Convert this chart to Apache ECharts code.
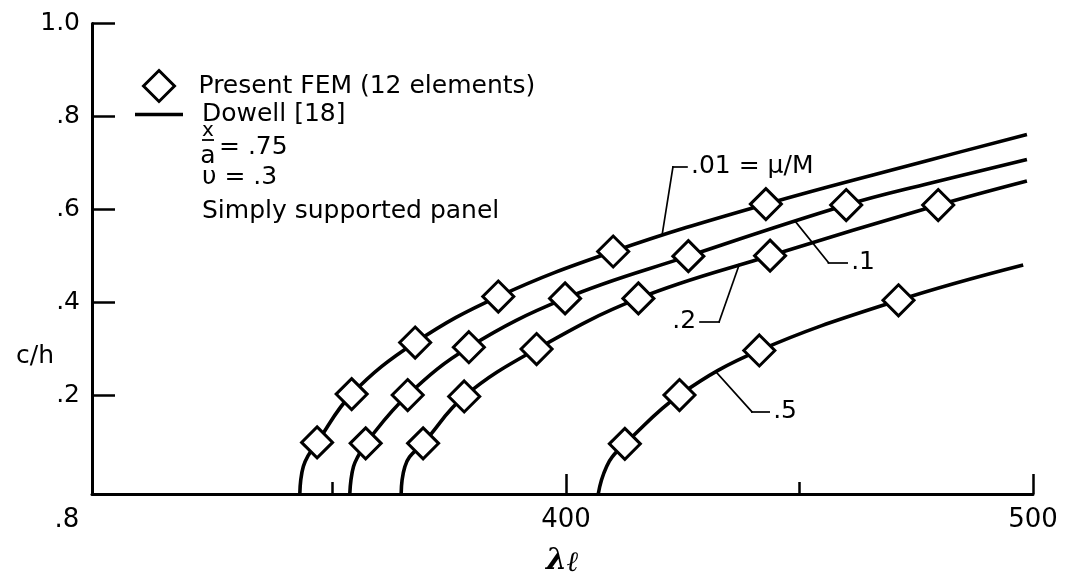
<!DOCTYPE html>
<html><head><meta charset="utf-8">
<script src="https://cdn.jsdelivr.net/npm/echarts@6/dist/echarts.min.js"></script>
<style>html,body{margin:0;padding:0;background:#fff}#c{width:1066px;height:578px}</style>
</head><body><div id="c"></div>
<script>
const FONT = '"DejaVu Sans", "Liberation Sans", sans-serif';

// ---- axes ----
const xMin = 298.5, xMax = 500;
const xMajorTicks = [400, 500];
const xMinorTicks = [350, 450];
const xLabelValues = [298.5, 400, 500];
const xLabelTexts = ['.8', '400', '500'];
const yMin = -0.013, yMax = 1.0;
const yTickValues = [0.2, 0.4, 0.6, 0.8, 1.0];
const yTickLabels = ['.2', '.4', '.6', '.8', '1.0'];

// ---- Dowell [18] curves (lambda, c/h) ----
const dowell001 = [[343.0,-0.013],[343.2,0.017],[343.75,0.046],[344.75,0.069],[346.7,0.098],[354.1,0.202],[367.7,0.313],[385.5,0.412],[410.1,0.509],[442.8,0.611],[477.9,0.706],[498.7,0.761]];
const dowell01  = [[353.7,-0.013],[353.95,0.017],[354.5,0.046],[355.4,0.067],[357.1,0.096],[366.1,0.200],[379.2,0.303],[399.8,0.408],[426.2,0.499],[460.0,0.609],[477.9,0.656],[498.7,0.707]];
const dowell02  = [[364.7,-0.013],[364.9,0.017],[365.5,0.046],[366.5,0.067],[369.4,0.096],[378.2,0.197],[393.7,0.299],[415.5,0.408],[443.7,0.500],[479.7,0.609],[498.7,0.661]];
const dowell05  = [[406.9,-0.013],[407.6,0.017],[408.7,0.046],[409.9,0.067],[412.6,0.095],[424.3,0.200],[441.4,0.296],[471.2,0.404],[497.9,0.480]];

// ---- Present FEM (12 elements) points ----
const fem001 = [[346.7,0.098],[354.1,0.202],[367.7,0.313],[385.5,0.412],[410.1,0.509],[442.8,0.611]];
const fem01  = [[357.1,0.096],[366.1,0.200],[379.2,0.303],[399.8,0.408],[426.2,0.499],[460.0,0.609]];
const fem02  = [[369.4,0.096],[378.2,0.197],[393.7,0.299],[415.5,0.408],[443.7,0.500],[479.7,0.609]];
const fem05  = [[412.6,0.095],[424.3,0.200],[441.4,0.296],[471.2,0.404]];

// ---- curve labels (mu/M) and leader paths ----
const curveLabels = ['.01 = μ/M', '.1', '.2', '.5'];
const lead001 = [[420.6,0.546],[422.9,0.691],[425.9,0.691]];
const lead01  = [[449.0,0.575],[456.2,0.485],[460.2,0.485]];
const lead02  = [[437.1,0.481],[432.8,0.358],[428.7,0.358]];
const lead05  = [[432.3,0.248],[439.8,0.164],[443.5,0.164]];

const LEG_FEM = 'Present FEM (12 elements)';
const LEG_DOW = 'Dowell [18]';

function leader(pts, text) {
  return [
    [{coord: pts[0], label: {show: false}}, {coord: pts[1]}],
    [{coord: pts[1], label: {show: true, formatter: text}}, {coord: pts[2]}]
  ];
}
function markLineFor(pts, text) {
  return {
    silent: true, animation: false, symbol: ['none', 'none'],
    lineStyle: {color: '#000', width: 1.7, type: 'solid', cap: 'square'},
    label: {show: false, position: 'end', distance: 4, color: '#000', fontSize: 25, fontFamily: FONT},
    emphasis: {disabled: true},
    data: leader(pts, text)
  };
}
function curve(data, pts, text) {
  return {
    name: LEG_DOW, type: 'line', data: data, symbol: 'none', showSymbol: false, smooth: 0.4,
    lineStyle: {color: '#000', width: 3.6}, itemStyle: {color: '#000'}, z: 2, silent: true,
    markLine: markLineFor(pts, text)
  };
}
function fem(data) {
  return {
    name: LEG_FEM, type: 'scatter', data: data, symbol: 'diamond', symbolSize: 31,
    itemStyle: {color: '#fff', borderColor: '#000', borderWidth: 3, opacity: 1}, z: 3, silent: true
  };
}

const chart = echarts.init(document.getElementById('c'), null, {renderer: 'canvas'});
const txt = {fill: '#000', fontFamily: FONT, fontSize: 25};
chart.setOption({
  animation: false,
  backgroundColor: '#fff',
  grid: {left: 92, right: 33, top: 23.4, bottom: 84, containLabel: false, outerBoundsMode: 'none'},
  legend: [
    {data: [LEG_FEM], left: 142, top: 69, padding: 0, itemWidth: 31, itemHeight: 31, selectedMode: false,
     itemStyle: {borderWidth: 3},
     textStyle: {color: '#000', fontSize: 25, fontFamily: FONT, padding: [0, 0, 0, 19]}},
    {data: [{name: LEG_DOW, icon: 'rect'}], left: 135, top: 102, padding: 0, itemWidth: 48, itemHeight: 3.6, selectedMode: false,
     itemStyle: {color: '#000', borderWidth: 0},
     textStyle: {color: '#000', fontSize: 25, fontFamily: FONT, padding: [0, 0, 0, 14]}}
  ],
  xAxis: [
    {type: 'value', min: xMin, max: xMax, position: 'bottom',
     name: '{l|λ}{s|ℓ}', nameLocation: 'middle', nameGap: 50,
     nameTextStyle: {rich: {
       l: {fontFamily: '"DejaVu Serif", serif', fontStyle: 'italic', fontWeight: 'bold', fontSize: 30, color: '#000'},
       s: {fontFamily: '"DejaVu Serif", serif', fontStyle: 'italic', fontWeight: 'bold', fontSize: 28, color: '#000', padding: [6, 0, 0, 0]}
     }},
     axisLine: {show: true, onZero: false, lineStyle: {color: '#000', width: 3}},
     axisTick: {show: true, inside: true, length: 20, customValues: xMajorTicks, lineStyle: {color: '#000', width: 2.5}},
     axisLabel: {show: true, customValues: xLabelValues, margin: 13, color: '#000', fontSize: 26, fontFamily: FONT,
       formatter: function (v) {
         const i = xLabelValues.indexOf(v);
         const t = i >= 0 ? xLabelTexts[i] : '';
         return v < 300 ? '{o|' + t + '}' : t;
       },
       rich: {o: {fontSize: 26, fontFamily: FONT, color: '#000', padding: [0, 50, 0, 0]}}},
     splitLine: {show: false}},
    {type: 'value', min: xMin, max: xMax, position: 'bottom',
     axisLine: {show: false, onZero: false},
     axisTick: {show: true, inside: true, length: 12, customValues: xMinorTicks, lineStyle: {color: '#000', width: 2.5}},
     axisLabel: {show: false}, splitLine: {show: false}}
  ],
  yAxis: {
    type: 'value', min: yMin, max: yMax,
    axisLine: {show: true, onZero: false, lineStyle: {color: '#000', width: 3}},
    axisTick: {show: true, inside: true, length: 23, customValues: yTickValues, lineStyle: {color: '#000', width: 2.5}},
    axisLabel: {show: true, customValues: yTickValues, margin: 12, color: '#000', fontSize: 25, fontFamily: FONT,
      formatter: function (v) {
        for (let i = 0; i < yTickValues.length; i++) if (Math.abs(v - yTickValues[i]) < 1e-6) return yTickLabels[i];
        return '';
      }},
    splitLine: {show: false}
  },
  graphic: [
    {type: 'text', left: 16, top: 344, style: Object.assign({text: 'c/h'}, txt)},
    {type: 'text', x: 208, y: 131, style: Object.assign({}, txt, {text: 'x', fontSize: 20, align: 'center', verticalAlign: 'middle'})},
    {type: 'line', shape: {x1: 202, y1: 140, x2: 214, y2: 140}, style: {stroke: '#000', lineWidth: 1.8}},
    {type: 'text', x: 208, y: 156, style: Object.assign({}, txt, {text: 'a', align: 'center', verticalAlign: 'middle'})},
    {type: 'text', x: 219, y: 147, style: Object.assign({}, txt, {text: '= .75', verticalAlign: 'middle'})},
    {type: 'text', x: 202, y: 177, style: Object.assign({}, txt, {text: 'υ = .3', verticalAlign: 'middle'})},
    {type: 'text', x: 202, y: 211, style: Object.assign({}, txt, {text: 'Simply supported panel', verticalAlign: 'middle'})}
  ],
  series: [
    curve(dowell001, lead001, curveLabels[0]),
    curve(dowell01, lead01, curveLabels[1]),
    curve(dowell02, lead02, curveLabels[2]),
    curve(dowell05, lead05, curveLabels[3]),
    fem(fem001), fem(fem01), fem(fem02), fem(fem05)
  ]
});
</script>
</body></html>
